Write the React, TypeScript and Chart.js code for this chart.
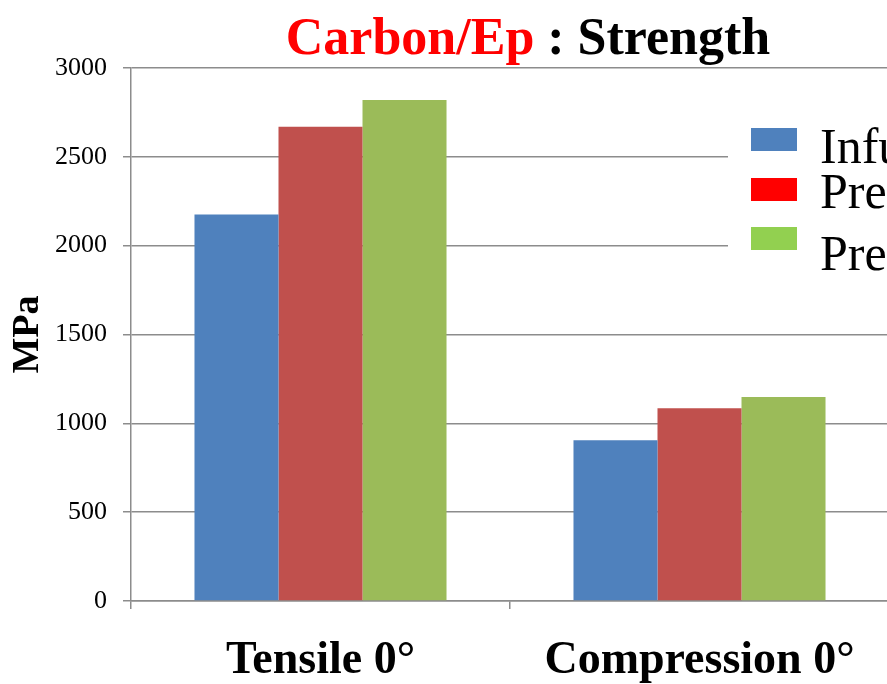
import React, { useEffect, useRef } from "react";
import { Chart, registerables } from "chart.js";

Chart.register(...registerables);

const categories = ["Tensile 0°", "Compression 0°"];
const seriesNames = ["Infusion", "Prepreg (OOA)", "Prepreg (autoclave)"];
const infusion = [2175, 905];
const prepregOOA = [2670, 1085];
const prepregAutoclave = [2820, 1148];
const barColors = ["#4F81BD", "#C0504D", "#9BBB59"];
const legendColors = ["#4F81BD", "#FF0000", "#92D050"];
const yMin = 0;
const yMax = 3000;
const yStep = 500;
const titleRed = "Carbon/Ep";
const titleBlack = " : Strength";
const yTitle = "MPa";

const SERIF = "'Liberation Serif', 'Times New Roman', serif";

const titlePlugin = {
  id: "customTitle",
  afterDraw(chart: any) {
    const ctx = chart.ctx;
    const ca = chart.chartArea;
    ctx.save();
    ctx.font = `bold 52px ${SERIF}`;
    ctx.textBaseline = "alphabetic";
    ctx.textAlign = "left";
    const w1 = ctx.measureText(titleRed).width;
    const w2 = ctx.measureText(titleBlack).width;
    const cx = ca.left + (ca.right - ca.left) / 2 + 18;
    const x0 = cx - (w1 + w2) / 2;
    const y = ca.top - 14;
    ctx.fillStyle = "#FF0000";
    ctx.fillText(titleRed, x0, y);
    ctx.fillStyle = "#000000";
    ctx.fillText(titleBlack, x0 + w1, y);
    ctx.restore();
  },
};

const legendPlugin = {
  id: "customLegend",
  afterDraw(chart: any) {
    const ctx = chart.ctx;
    const ca = chart.chartArea;
    const bx = ca.left + 620;
    ctx.save();
    ctx.fillStyle = "#FFFFFF";
    ctx.fillRect(bx - 23, ca.top + 40, 400, 180);
    const boxTops = [60, 110, 159];
    const baselines = [95, 140, 202];
    ctx.font = `50px ${SERIF}`;
    ctx.textBaseline = "alphabetic";
    ctx.textAlign = "left";
    seriesNames.forEach((name, i) => {
      ctx.fillStyle = legendColors[i];
      ctx.fillRect(bx, ca.top + boxTops[i], 46, 23);
      ctx.fillStyle = "#000000";
      ctx.fillText(name, bx + 69, ca.top + baselines[i]);
    });
    ctx.restore();
  },
};

export default function App() {
  const ref = useRef<HTMLCanvasElement | null>(null);
  useEffect(() => {
    if (!ref.current) return;
    const chart = new Chart(ref.current, {
      type: "bar",
      data: {
        labels: categories,
        datasets: [
          { label: seriesNames[0], data: infusion, backgroundColor: barColors[0], borderWidth: 0 },
          { label: seriesNames[1], data: prepregOOA, backgroundColor: barColors[1], borderWidth: 0 },
          { label: seriesNames[2], data: prepregAutoclave, backgroundColor: barColors[2], borderWidth: 0 },
        ],
      },
      options: {
        responsive: false,
        animation: false,
        devicePixelRatio: 1,
        layout: { padding: { top: 68, right: 0, bottom: 0, left: 0 } },
        datasets: { bar: { categoryPercentage: 0.665, barPercentage: 1 } },
        plugins: {
          legend: { display: false },
          title: { display: false },
          tooltip: { enabled: false },
        },
        scales: {
          x: {
            grid: {
              drawOnChartArea: false,
              drawTicks: true,
              tickLength: 8,
              color: "#8C8C8C",
              lineWidth: 1.5,
            },
            border: { display: true, color: "#8C8C8C", width: 1.5 },
            ticks: {
              color: "#000000",
              font: { family: SERIF, size: 46, weight: "bold" },
              padding: 25,
              maxRotation: 0,
            },
            afterFit(scale: any) {
              scale.height = 83;
            },
          },
          y: {
            min: yMin,
            max: yMax,
            grid: {
              drawOnChartArea: true,
              drawTicks: true,
              tickLength: 8,
              color: "#8C8C8C",
              lineWidth: 1.5,
            },
            border: { display: true, color: "#8C8C8C", width: 1.5 },
            ticks: {
              stepSize: yStep,
              color: "#000000",
              font: { family: SERIF, size: 26 },
              padding: 16,
              callback: (v: any) => String(v),
            },
            title: {
              display: true,
              text: yTitle,
              color: "#000000",
              font: { family: SERIF, size: 38, weight: "bold" },
              padding: { top: 5, bottom: 0 },
            },
            afterFit(scale: any) {
              scale.width = 131;
            },
          },
        },
      },
      plugins: [titlePlugin, legendPlugin],
    });
    return () => chart.destroy();
  }, []);
  return (
    <div
      style={{
        position: "fixed",
        left: 0,
        top: 0,
        width: 887,
        height: 684,
        overflow: "hidden",
        background: "#FFFFFF",
      }}
    >
      <canvas ref={ref} width={889} height={684} style={{ display: "block" }} />
    </div>
  );
}
